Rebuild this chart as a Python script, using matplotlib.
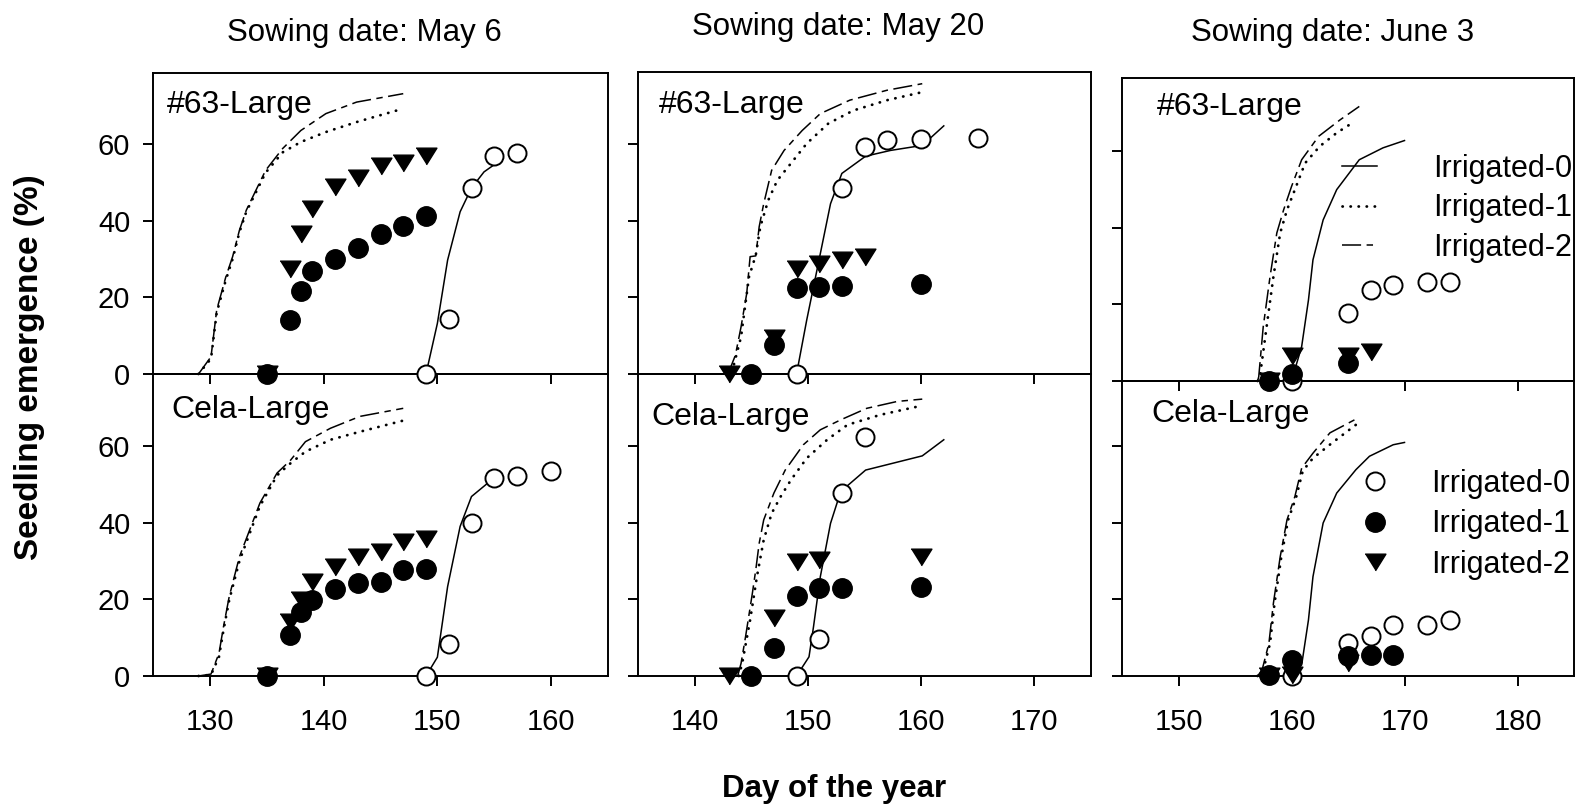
import matplotlib
matplotlib.use("Agg")
import matplotlib.pyplot as plt

plt.rcParams['font.family'] = ['Liberation Sans', 'DejaVu Sans']

W, H = 1578, 811

# ---------------- data ----------------
titles = ["Sowing date: May 6", "Sowing date: May 20", "Sowing date: June 3"]
cultivars = ["#63-Large", "Cela-Large"]
series_names = ["Irrigated-0", "Irrigated-1", "Irrigated-2"]
xlims = [(125, 165), (135, 175), (145, 185)]
xticks = [[130, 140, 150, 160], [140, 150, 160, 170], [150, 160, 170, 180]]
yticks = [0, 20, 40, 60]

# model curves (lines): [column][row] -> (x, y)
m0_x = [[[149.0, 150.0, 150.9, 152.0, 153.0, 154.1, 155.2],
         [149.0, 150.0, 150.9, 152.0, 153.0, 155.0]],
        [[149.0, 149.9, 151.1, 152.0, 153.0, 155.1, 157.3, 160.1, 162.0],
         [149.0, 150.1, 150.5, 151.1, 152.0, 152.9, 155.1, 160.1, 162.0]],
        [[160.0, 160.9, 161.5, 161.9, 162.8, 164.0, 166.0, 168.1, 170.0],
         [160.0, 160.9, 161.5, 161.9, 162.8, 164.0, 165.7, 166.9, 169.0, 170.0]]]
m0_y = [[[0, 13.2, 29.7, 42.3, 48.5, 52.7, 55.0],
         [0, 4.9, 23.3, 39.0, 46.8, 51.7]],
        [[0, 14.1, 31.4, 44.4, 52.3, 56.8, 58.3, 59.6, 64.7],
         [0, 5.0, 12.9, 25.9, 39.8, 48.1, 53.7, 57.4, 61.6]],
        [[0, 9.0, 21.1, 31.6, 42.0, 49.9, 57.7, 60.8, 62.7],
         [0, 2.9, 14.6, 25.9, 39.9, 47.7, 53.8, 57.3, 60.3, 60.9]]]

m1_x = [[[129.0, 130.1, 130.6, 131.4, 132.0, 132.6, 133.2, 133.9, 134.9, 136.4, 138.0, 140.2, 142.9, 147.0],
         [129.0, 130.1, 130.8, 131.2, 131.7, 132.6, 133.5, 134.4, 135.9, 137.1, 138.4, 140.6, 143.2, 147.0]],
        [[143.3, 144.1, 144.8, 145.4, 145.8, 146.5, 147.3, 148.5, 149.9, 151.8, 154.0, 157.0, 160.1],
         [143.9, 144.2, 144.9, 145.5, 146.1, 146.8, 147.6, 148.5, 149.9, 151.7, 153.5, 156.4, 159.3, 160.1]],
        [[157.0, 157.2, 157.8, 158.4, 159.0, 159.6, 160.3, 161.2, 162.5, 164.0, 165.6],
         [157.0, 157.5, 158.1, 158.5, 159.1, 159.7, 160.4, 161.0, 161.9, 163.6, 165.7]]]
m1_y = [[[0, 4.0, 16.0, 24.5, 30.0, 37.0, 42.3, 46.5, 52.5, 57.8, 60.5, 63.1, 65.7, 69.2],
         [0, 0.3, 5.0, 12.0, 19.8, 30.0, 37.2, 44.3, 52.3, 55.5, 58.5, 61.6, 63.7, 66.6]],
        [[0.5, 9.7, 25.3, 31.0, 38.4, 45.3, 50.5, 54.9, 60.1, 65.3, 68.7, 71.4, 73.5],
         [0, 3.3, 14.6, 25.9, 35.5, 42.4, 46.8, 51.1, 56.8, 61.6, 65.5, 68.1, 70.0, 70.5]],
        [[0, 1.1, 14.2, 27.2, 38.6, 44.6, 49.9, 56.8, 61.2, 64.7, 67.7],
         [0, 1.6, 8.5, 19.0, 31.1, 40.7, 46.5, 53.5, 56.8, 60.8, 65.5]]]

m2_x = [[[129.0, 130.1, 130.6, 131.4, 132.0, 132.6, 133.2, 133.9, 134.9, 136.4, 138.0, 140.2, 142.9, 147.0],
         [129.0, 130.1, 130.8, 131.2, 131.7, 132.6, 133.5, 134.4, 135.9, 137.1, 138.4, 140.6, 143.2, 147.0]],
        [[143.0, 143.2, 143.6, 144.1, 144.6, 144.9, 145.4, 145.7, 146.1, 146.8, 147.9, 149.5, 151.1, 153.7, 157.0, 160.1],
         [143.8, 144.1, 144.5, 145.1, 145.4, 145.7, 146.1, 147.0, 148.0, 149.6, 151.1, 152.9, 155.2, 157.9, 160.1]],
        [[157.0, 157.1, 157.5, 158.1, 158.7, 159.3, 160.0, 160.9, 162.4, 164.3, 166.0],
         [157.0, 157.4, 158.0, 158.4, 159.0, 159.6, 160.3, 160.9, 161.9, 163.4, 165.9]]]
m2_y = [[[0, 4.5, 16.7, 25.3, 30.6, 37.5, 42.7, 47.0, 53.1, 58.8, 63.5, 67.9, 70.9, 73.1],
         [0, 0.5, 5.9, 12.9, 20.7, 31.1, 38.1, 45.1, 52.9, 56.3, 61.1, 64.6, 67.7, 69.8]],
        [[0, 1.9, 4.9, 12.3, 21.0, 30.6, 30.8, 38.4, 44.4, 53.1, 58.3, 63.5, 67.9, 71.4, 74.0, 75.7],
         [0, 3.3, 10.3, 21.6, 27.7, 34.6, 40.7, 47.7, 53.7, 60.3, 64.2, 66.8, 69.8, 71.6, 72.2]],
        [[0, 1.1, 14.2, 27.2, 38.6, 44.6, 50.7, 57.7, 63.8, 68.1, 71.6],
         [0, 1.6, 8.5, 19.0, 31.1, 40.7, 46.8, 54.2, 58.1, 63.4, 67.3]]]

# observations (markers)
o0_x = [[[149, 151, 153, 155, 157], [149, 151, 153, 155, 157, 160]],
        [[149, 153, 155, 157, 160, 165], [149, 151, 153, 155]],
        [[160, 165, 167, 169, 172, 174], [160, 165, 167, 169, 172, 174]]]
o0_y = [[[0, 14.3, 48.5, 56.8, 57.5], [0, 8.3, 39.8, 51.7, 52.2, 53.5]],
        [[0, 48.4, 59.2, 60.9, 61.4, 61.6], [0, 9.6, 47.8, 62.2]],
        [[0, 17.8, 23.8, 25.1, 25.9, 25.9], [0, 8.7, 10.4, 13.3, 13.3, 14.6]]]

o1_x = [[[135, 137, 138, 139, 141, 143, 145, 147, 149], [135, 137, 138, 139, 141, 143, 145, 147, 149]],
        [[145, 147, 149, 151, 153, 160], [145, 147, 149, 151, 153, 160]],
        [[158, 160, 165], [158, 160, 165, 167, 169]]]
o1_y = [[[0, 14.1, 21.7, 26.8, 29.9, 32.9, 36.5, 38.6, 41.3], [0, 10.7, 16.6, 19.8, 22.7, 24.2, 24.6, 27.7, 27.8]],
        [[0, 7.6, 22.5, 22.7, 22.9, 23.4], [0, 7.2, 20.9, 22.9, 22.9, 23.3]],
        [[0, 1.8, 4.6], [0.3, 4.3, 5.2, 5.5, 5.5]]]

o2_x = [[[135, 137, 138, 139, 141, 143, 145, 147, 149], [135, 137, 138, 139, 141, 143, 145, 147, 149]],
        [[143, 147, 149, 151, 153, 155], [143, 147, 149, 151, 160]],
        [[158, 160, 165, 167], [158, 160, 165]]]
o2_y = [[[0, 27.3, 36.6, 43.0, 48.8, 51.2, 54.2, 55.1, 56.9], [0, 14.2, 19.8, 24.6, 28.5, 31.1, 32.4, 35.0, 35.6]],
        [[0, 9.3, 27.3, 28.8, 29.7, 30.6], [0, 15.1, 29.6, 30.3, 31.1]],
        [[0, 6.5, 6.5, 7.5], [0, 0.3, 3.5]]]

# ---------------- layout (pixels) ----------------
col_lr = [(153, 608), (638, 1091), (1122, 1574)]
col_tmb = [(73, 374, 676), (72, 374, 676), (78, 381, 676)]
PX_PER_UNIT = 3.835

title_pos = [(364, 41), (838, 35), (1333, 41)]
label_pos = [[(167, 113), (171, 418)], [(659, 113), (651, 425)], [(1157, 115), (1151, 422)]]

tri = [(-1, 0.8), (1, 0.8), (0, -0.8)]
dash2 = (0, (12.5, 3.6, 4.2, 3.6))
dot1 = (0, (0.1, 2.8))

fig = plt.figure(figsize=(W / 100, H / 100), dpi=100)
fig.patch.set_facecolor('white')


def fx(p):
    return p / W


def fy(p):
    return 1 - p / H


for c in range(3):
    l, r = col_lr[c]
    t, m, b = col_tmb[c]
    for row in range(2):
        top, bot = (t, m) if row == 0 else (m, b)
        ax = fig.add_axes([fx(l), fy(bot), (r - l) / W, (bot - top) / H])
        ax.set_facecolor('none')
        ax.set_zorder(2 - row)
        ax.set_xlim(*xlims[c])
        ax.set_ylim(0, (bot - top) / PX_PER_UNIT)
        ax.set_xticks(xticks[c])
        ax.set_yticks(yticks)
        for s in ax.spines.values():
            s.set_linewidth(1.4)
        ax.tick_params(axis='both', direction='out', length=7, width=1.4,
                       labelsize=21, top=False, right=False)
        ax.tick_params(axis='y', pad=9.4)
        ax.tick_params(axis='x', pad=16.0)
        if row == 0:
            ax.tick_params(axis='x', labelbottom=False)
        if c != 0:
            ax.tick_params(axis='y', labelleft=False)

        h0, = ax.plot(m0_x[c][row], m0_y[c][row], '-', color='black', lw=1.1, clip_on=False)
        h1, = ax.plot(m1_x[c][row], m1_y[c][row], color='black', lw=2.0,
                      linestyle=dot1, dash_capstyle='round', clip_on=False)
        h2, = ax.plot(m2_x[c][row], m2_y[c][row], color='black', lw=1.1,
                      linestyle=dash2, clip_on=False)
        p0, = ax.plot(o0_x[c][row], o0_y[c][row], 'o', ms=13, mfc='white', mec='black',
                      mew=1.4, ls='none', clip_on=False, zorder=3)
        p2, = ax.plot(o2_x[c][row], o2_y[c][row], marker=tri, ms=15, color='black',
                      ls='none', clip_on=False, zorder=4)
        p1, = ax.plot(o1_x[c][row], o1_y[c][row], 'o', ms=14, color='black',
                      ls='none', clip_on=False, zorder=5)

        lx, ly = label_pos[c][row]
        fig.text(fx(lx), fy(ly), cultivars[row], fontsize=23, ha='left', va='baseline')

        if c == 2 and row == 0:
            ax.legend([h0, h1, h2], series_names, loc='upper left',
                      bbox_to_anchor=(fx(1342), fy(154)), bbox_transform=fig.transFigure,
                      frameon=False, fontsize=22, handlelength=1.15, handletextpad=1.83,
                      labelspacing=0.31, borderpad=0, borderaxespad=0)
        if c == 2 and row == 1:
            ax.legend([p0, p1, p2], series_names, loc='upper left',
                      bbox_to_anchor=(fx(1357), fy(469)), bbox_transform=fig.transFigure,
                      frameon=False, fontsize=22, handlelength=1.15, handletextpad=1.29,
                      labelspacing=0.34, borderpad=0, borderaxespad=0, numpoints=1)

    tx, ty = title_pos[c]
    fig.text(fx(tx), fy(ty), titles[c], fontsize=22.5, ha='center', va='baseline')

fig.text(fx(30), fy(367), "Seedling emergence (%)", fontsize=24, fontweight='bold',
         rotation=90, ha='center', va='center')
fig.text(fx(834), fy(797), "Day of the year", fontsize=22.5, fontweight='bold',
         ha='center', va='baseline')

fig.savefig("out.png", dpi=100)
